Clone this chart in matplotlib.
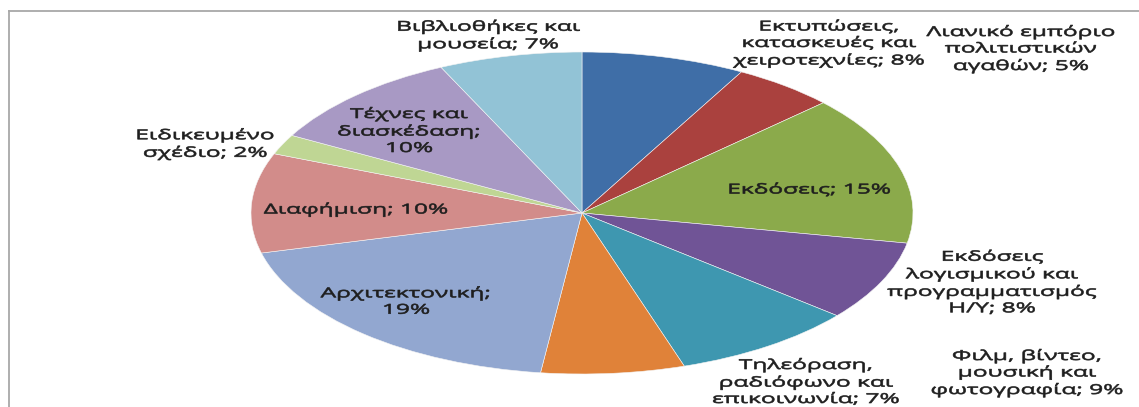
import matplotlib
matplotlib.use("Agg")
import matplotlib.pyplot as plt
from matplotlib import patheffects
from matplotlib.transforms import Affine2D
from matplotlib.lines import Line2D

plt.rcParams['font.family'] = ['Open Sans', 'DejaVu Sans']

# -------------------------
# Data (clockwise from 12 o'clock)
# -------------------------
sectors = [
    "Εκτυπώσεις,\nκατασκευές και\nχειροτεχνίες",
    "Λιανικό εμπόριο\nπολιτιστικών\nαγαθών",
    "Εκδόσεις",
    "Εκδόσεις\nλογισμικού και\nπρογραμματισμός\nΗ/Υ",
    "Φιλμ, βίντεο,\nμουσική και\nφωτογραφία",
    "Τηλεόραση,\nραδιόφωνο και\nεπικοινωνία",
    "Αρχιτεκτονική;\n",
    "Διαφήμιση",
    "Ειδικευμένο\nσχέδιο",
    "Τέχνες και\nδιασκέδαση;\n",
    "Βιβλιοθήκες και\nμουσεία",
]
shares = [8, 5, 15, 8, 9, 7, 19, 10, 2, 10, 7]
colors = ["#3F6EA7", "#AA413E", "#8BAA4B", "#705496", "#3E97B0", "#E08239",
          "#92A7D0", "#D28C8A", "#BFD694", "#A899C4", "#92C3D6"]

# label centres in pixels (x from left, y from top)
label_x = [829, 1021, 809, 992, 1027, 806, 406, 356, 205, 409, 488]
label_y = [44, 49, 190, 283, 373, 382, 302, 210, 144, 131, 36]

W, H = 1139, 407
cx, cy, rx, ry = 582, 213, 331, 161   # pie centre / radii in pixels
SX = 1.8                              # horizontal stretch of the labels


class Stretch(patheffects.AbstractPathEffect):
    """Widen glyphs horizontally around a fixed x (display pixels), with a light outline."""
    def __init__(self, sx, x0, lw=0.45):
        super().__init__()
        self.sx = sx
        self.x0 = x0
        self.lw = lw

    def draw_path(self, renderer, gc, tpath, affine, rgbFace=None):
        widen = Affine2D().translate(-self.x0, 0).scale(self.sx, 1).translate(self.x0, 0)
        gc0 = renderer.new_gc()
        gc0.copy_properties(gc)
        gc0.set_linewidth(self.lw)
        gc0.set_foreground(rgbFace)
        renderer.draw_path(gc0, tpath, affine + widen, rgbFace)
        gc0.restore()


fig = plt.figure(figsize=(W / 100, H / 100), dpi=100)
ax = fig.add_axes([0, 0, 1, 1])

ax.pie(shares, colors=colors, startangle=90, counterclock=False, radius=1,
       wedgeprops=dict(edgecolor="#F4F4F4", linewidth=0.4))
ax.set_aspect("auto")
ax.set_xlim(-cx / rx, (W - cx) / rx)
ax.set_ylim((cy - H) / ry, cy / ry)
ax.axis("off")

for name, v, px, py in zip(sectors, shares, label_x, label_y):
    if name.endswith("\n"):
        txt = f"{name}{v}%"
    else:
        txt = f"{name}; {v}%"
    fig.text(px / W, 1 - py / H, txt, ha="center", va="center", multialignment="center",
             fontsize=9.8, color="#1E1E1E", linespacing=1.13,
             path_effects=[Stretch(SX, px)])

# chart area border (top and left edges)
frame = dict(color="#A8A8A8", linewidth=1.3, transform=fig.transFigure)
fig.add_artist(Line2D([9 / W, 1], [1 - 11 / H, 1 - 11 / H], **frame))
fig.add_artist(Line2D([9 / W, 9 / W], [0, 1 - 11 / H], **frame))

fig.savefig("out.png", dpi=100, facecolor="white")
